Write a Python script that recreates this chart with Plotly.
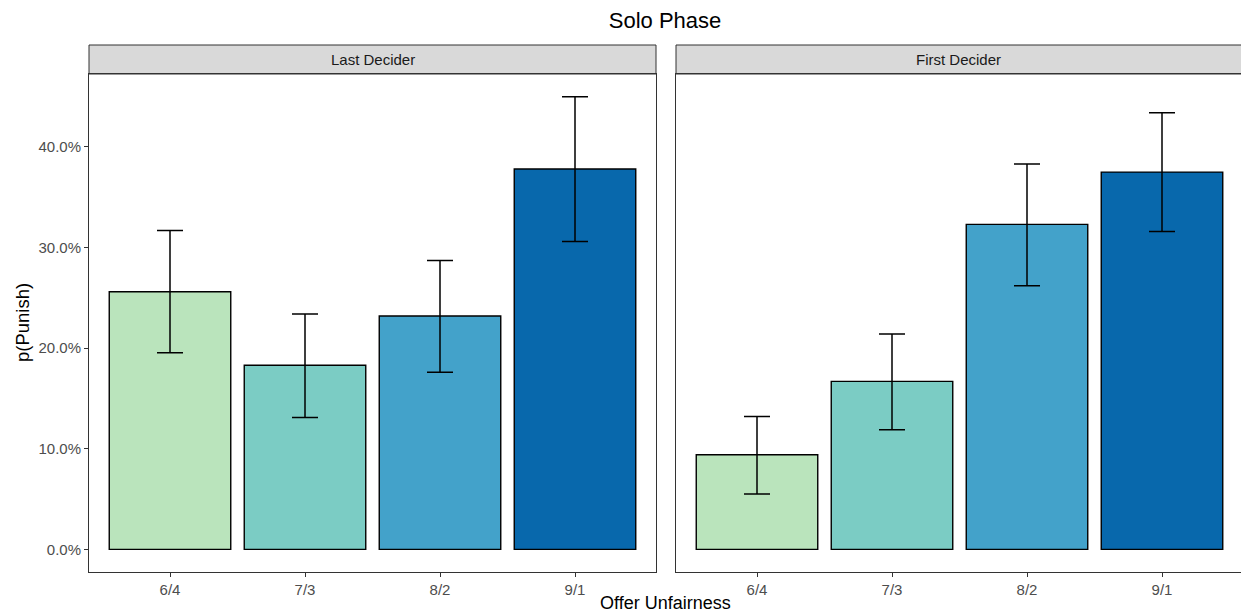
import plotly.graph_objects as go

# Offer split categories (x axis)
offers = ["6/4", "7/3", "8/2", "9/1"]

# Facet panels
panels = ["Last Decider", "First Decider"]

# Proportion punishing, per panel
p_last = [0.256, 0.183, 0.232, 0.378]
p_first = [0.094, 0.167, 0.323, 0.375]

# Error bar limits (upper / lower), per panel
upper_last = [0.317, 0.234, 0.287, 0.450]
lower_last = [0.1955, 0.131, 0.176, 0.306]
upper_first = [0.132, 0.214, 0.383, 0.434]
lower_first = [0.055, 0.119, 0.262, 0.316]

# Y axis ticks
y_ticks = [0.0, 0.1, 0.2, 0.3, 0.4]
y_ticktext = ["0.0%", "10.0%", "20.0%", "30.0%", "40.0%"]

bar_colors = ["#BAE4BC", "#7BCCC4", "#43A2CA", "#0868AC"]

W, H = 1241, 615
ML, MR, MT, MB = 89, 0, 74, 43
plot_w = W - ML - MR
plot_h = H - MT - MB
FONT = "Liberation Sans, Arial, Helvetica, sans-serif"

# Panel geometry in pixels
panel_w = 567
panel2_left = 676
cat_step = panel_w / 4.2  # pixels per category unit

fig = go.Figure()


def add_panel(vals, up, lo, xa, ya):
    fig.add_trace(go.Bar(
        x=offers, y=vals,
        marker=dict(color=bar_colors, line=dict(color="black", width=1.4)),
        error_y=dict(
            type="data", symmetric=False,
            array=[u - v for u, v in zip(up, vals)],
            arrayminus=[v - l for v, l in zip(vals, lo)],
            color="black", thickness=1.5, width=13,
        ),
        xaxis=xa, yaxis=ya, showlegend=False,
    ))


add_panel(p_last, upper_last, lower_last, "x", "y")
add_panel(p_first, upper_first, lower_first, "x2", "y2")

d1_end = panel_w / plot_w
d2_start = (panel2_left - ML) / plot_w
y_range = [-0.0225, 0.4725]
x2_end = -0.6 + (W - panel2_left) / cat_step

axis_common = dict(
    showgrid=False, zeroline=False, showline=True, linecolor="#333333",
    linewidth=1, ticks="outside", ticklen=4, tickcolor="#333333",
    tickfont=dict(family=FONT, size=15, color="#4D4D4D"),
)

fig.update_layout(
    width=W, height=H,
    margin=dict(l=ML, r=MR, t=MT, b=MB),
    paper_bgcolor="white", plot_bgcolor="white",
    bargap=0.1,
    font=dict(family=FONT),
    xaxis=dict(domain=[0, d1_end], range=[-0.6, 3.6], mirror=True,
               type="category", anchor="y", **axis_common),
    xaxis2=dict(domain=[d2_start, 1], range=[-0.6, x2_end],
                mirror=True, type="category", anchor="y2", **axis_common),
    yaxis=dict(domain=[0, 1], range=y_range, mirror=True, anchor="x",
               tickvals=y_ticks, ticktext=y_ticktext, **axis_common),
    yaxis2=dict(domain=[0, 1], range=y_range, anchor="x2",
                tickvals=y_ticks, showticklabels=False,
                **{**axis_common, "ticks": ""}),
    title=dict(text="Solo Phase", x=0.5, xref="paper", xanchor="center",
               y=1 - 20 / H, yanchor="middle",
               font=dict(family=FONT, size=22, color="black")),
)

# Facet strips above each panel
strip_top = 1 + 29 / plot_h
for xref, label in zip(["x domain", "x2 domain"], panels):
    x1 = 1 if xref == "x domain" else 1.01
    fig.add_shape(type="rect", xref=xref, yref="paper", x0=0, x1=x1,
                  y0=1, y1=strip_top, fillcolor="#D9D9D9",
                  line=dict(color="#333333", width=1), layer="below")
    fig.add_annotation(xref=xref, yref="paper", x=0.5,
                       y=(1 + strip_top) / 2, text=label, showarrow=False,
                       xanchor="center", yanchor="middle",
                       font=dict(family=FONT, size=15, color="#1A1A1A"))

# Axis titles
fig.add_annotation(xref="paper", yref="paper", x=0.5, y=-(614 - (MT + plot_h)) / plot_h,
                   text="Offer Unfairness", showarrow=False, xanchor="center",
                   yanchor="bottom", borderpad=0,
                   font=dict(family=FONT, size=18, color="black"))
fig.add_annotation(xref="paper", yref="paper", x=(22 - ML) / plot_w, y=0.5,
                   text="p(Punish)", showarrow=False, textangle=-90,
                   xanchor="center", yanchor="middle",
                   font=dict(family=FONT, size=18.5, color="black"))

fig.write_html("out.html")
